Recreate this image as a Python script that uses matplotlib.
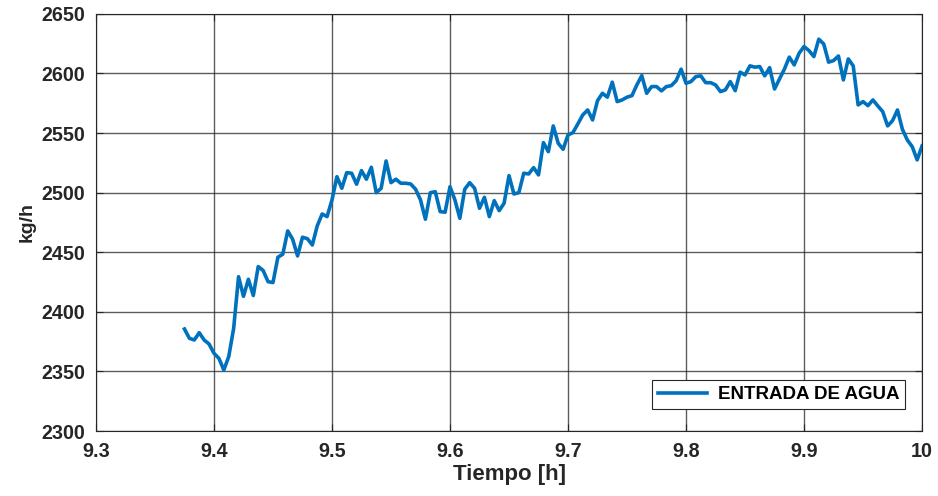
import numpy as np
import matplotlib
matplotlib.use("Agg")
import matplotlib.pyplot as plt

# Water inflow samples, one every 15 s starting at 9.375 h
t_start = 9.375
step_s = 15
flow = [
    2385.6, 2377.8, 2376.4, 2382.5, 2376.4, 2373.0, 2365.2, 2361.0, 2351.2, 2362.4,
    2386.0, 2429.5, 2413.0, 2427.3, 2413.7, 2438.0, 2434.7, 2425.3, 2424.6, 2445.8,
    2448.4, 2467.9, 2460.9, 2446.9, 2462.6, 2461.4, 2456.1, 2472.1, 2482.1, 2479.9,
    2493.9, 2513.4, 2503.7, 2516.8, 2516.3, 2507.1, 2518.5, 2511.3, 2521.3, 2500.0,
    2503.7, 2526.6, 2508.4, 2511.3, 2507.9, 2507.9, 2507.3, 2502.9, 2493.9, 2477.7,
    2500.0, 2500.8, 2484.1, 2483.6, 2505.0, 2493.9, 2478.5, 2502.9, 2508.4, 2503.7,
    2486.9, 2496.1, 2479.9, 2493.3, 2484.9, 2491.1, 2514.3, 2498.9, 2500.0, 2516.3,
    2515.7, 2521.0, 2514.9, 2542.0, 2534.4, 2556.0, 2541.5, 2536.4, 2548.4, 2550.4,
    2557.7, 2565.2, 2569.4, 2561.0, 2577.2, 2583.4, 2580.1, 2592.7, 2576.4, 2577.8,
    2580.1, 2581.4, 2590.4, 2598.2, 2583.4, 2589.0, 2589.0, 2585.4, 2589.0, 2589.8,
    2594.0, 2603.6, 2591.8, 2593.2, 2597.4, 2598.0, 2592.3, 2592.3, 2590.4, 2584.8,
    2586.2, 2593.2, 2585.6, 2601.1, 2598.8, 2606.4, 2605.3, 2605.8, 2598.0, 2604.9,
    2587.0, 2595.2, 2603.6, 2613.7, 2607.2, 2617.0, 2622.6, 2619.2, 2614.2, 2628.8,
    2624.8, 2609.5, 2610.8, 2614.7, 2594.6, 2612.2, 2606.4, 2573.6, 2576.4, 2573.0,
    2577.8, 2572.8, 2568.0, 2556.0, 2560.4, 2569.4, 2553.2, 2544.2, 2538.6, 2527.5,
    2539.2,
]
time_h = t_start + np.arange(len(flow)) * step_s / 3600.0

x_ticks = [9.3, 9.4, 9.5, 9.6, 9.7, 9.8, 9.9, 10]
x_tick_labels = ["9.3", "9.4", "9.5", "9.6", "9.7", "9.8", "9.9", "10"]
y_ticks = [2300, 2350, 2400, 2450, 2500, 2550, 2600, 2650]

plt.rcParams["font.family"] = ["Liberation Sans", "DejaVu Sans"]
plt.rcParams["font.weight"] = "bold"

fig = plt.figure(figsize=(9.38, 4.96), dpi=100)
ax = fig.add_axes([0.1023, 0.131, 0.8807, 0.841])

ax.plot(time_h, flow, color="#0072BD", linewidth=2.6, label="ENTRADA DE AGUA")

ax.set_xlim(9.3, 10)
ax.set_ylim(2300, 2650)
ax.set_xticks(x_ticks)
ax.set_xticklabels(x_tick_labels)
ax.set_yticks(y_ticks)

ax.grid(True, color="#262626", linewidth=1.0, alpha=0.75)
ax.set_axisbelow(True)

ax.tick_params(direction="in", length=5, width=0.8, colors="#262626",
               labelsize=14.2, top=True, right=True)
ax.tick_params(axis="x", pad=8)
ax.tick_params(axis="y", pad=8)
for lbl in ax.get_xticklabels() + ax.get_yticklabels():
    lbl.set_fontweight("bold")

for sp in ax.spines.values():
    sp.set_color("#262626")
    sp.set_linewidth(0.8)

ax.set_xlabel("Tiempo [h]", fontsize=16, fontweight="bold", color="#262626", labelpad=2)
ax.set_ylabel("kg/h", fontsize=14, fontweight="bold", color="#262626", labelpad=4)

leg = ax.legend(loc="lower right", bbox_to_anchor=(0.991, 0.031),
                prop={"weight": "bold", "size": 13.5}, fancybox=False,
                framealpha=1, edgecolor="#262626", handlelength=2.6,
                borderpad=0.3, handletextpad=0.6)
leg.get_frame().set_linewidth(0.8)

fig.savefig("out.png", dpi=100)
